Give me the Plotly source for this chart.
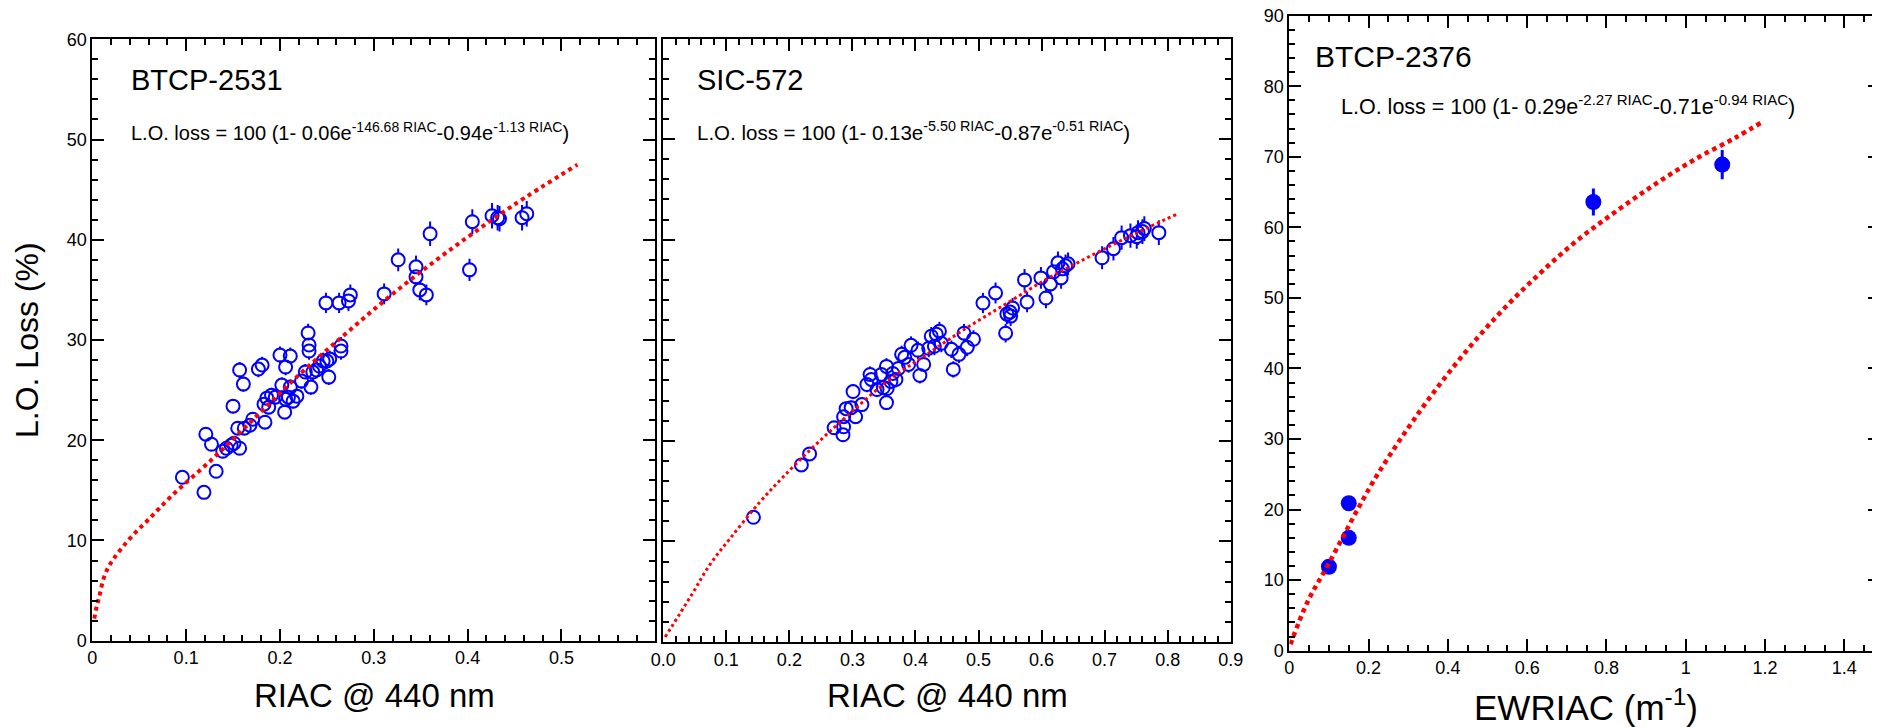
import plotly.graph_objects as go

# ---------------- data ----------------
btcp2531_riac = [0.096, 0.119, 0.121, 0.127, 0.132, 0.139, 0.143, 0.148, 0.151, 0.150,
                 0.155, 0.157, 0.157, 0.161, 0.162, 0.168, 0.171, 0.177, 0.181, 0.184,
                 0.183, 0.186, 0.188, 0.191, 0.195, 0.200, 0.202, 0.205, 0.206, 0.206,
                 0.209, 0.211, 0.211, 0.214, 0.218, 0.223, 0.227, 0.230, 0.231, 0.231,
                 0.233, 0.235, 0.239, 0.242, 0.246, 0.249, 0.250, 0.252, 0.253, 0.263,
                 0.265, 0.265, 0.273, 0.275, 0.311, 0.326, 0.345, 0.345, 0.349, 0.356,
                 0.360, 0.402, 0.405, 0.426, 0.432, 0.434, 0.458, 0.463]
btcp2531_loss = [16.3, 14.8, 20.6, 19.6, 16.9, 18.9, 19.2, 19.5, 19.7, 23.4,
                 21.2, 19.2, 27.0, 25.6, 21.2, 21.5, 22.1, 27.1, 27.5, 21.8,
                 23.6, 24.2, 23.3, 24.5, 24.3, 28.5, 25.5, 22.8, 27.3, 24.1,
                 24.3, 28.4, 25.3, 23.9, 24.4, 25.9, 26.8, 30.7, 29.5, 28.9,
                 25.3, 26.8, 27.0, 27.4, 27.9, 33.7, 27.9, 26.3, 28.1, 33.7,
                 28.9, 29.4, 33.9, 34.5, 34.6, 38.0, 37.3, 36.3, 35.0, 34.5,
                 40.6, 37.0, 41.8, 42.4, 42.2, 42.1, 42.2, 42.6]
fit2531_riac = [0.0021, 0.0039, 0.0058, 0.0082, 0.012, 0.017, 0.023, 0.032, 0.045, 0.060,
                0.084, 0.130, 0.175, 0.220, 0.266, 0.311, 0.357, 0.402, 0.448, 0.517]
fit2531_loss = [2.2, 3.1, 3.8, 4.7, 6.2, 7.3, 8.2, 9.3, 10.7, 12.1,
                14.4, 18.3, 22.4, 26.5, 30.3, 33.9, 37.3, 40.4, 43.4, 47.5]

sic572_riac = [0.143, 0.219, 0.232, 0.271, 0.285, 0.286, 0.286, 0.290, 0.298, 0.305,
               0.301, 0.315, 0.323, 0.328, 0.330, 0.339, 0.346, 0.349, 0.354, 0.355,
               0.354, 0.361, 0.364, 0.369, 0.373, 0.378, 0.383, 0.389, 0.393, 0.404,
               0.407, 0.413, 0.421, 0.425, 0.430, 0.433, 0.438, 0.441, 0.457, 0.460,
               0.469, 0.477, 0.482, 0.492, 0.507, 0.527, 0.543, 0.545, 0.550, 0.551,
               0.554, 0.573, 0.577, 0.599, 0.607, 0.614, 0.619, 0.626, 0.631, 0.633,
               0.638, 0.642, 0.696, 0.714, 0.727, 0.741, 0.751, 0.753, 0.760, 0.763,
               0.786]
sic572_loss = [12.4, 17.6, 18.7, 21.3, 20.6, 21.4, 22.4, 23.2, 23.3, 22.4,
               24.9, 23.6, 25.6, 26.6, 26.1, 25.1, 26.6, 25.3, 27.4, 25.2,
               23.8, 25.9, 26.7, 26.1, 27.2, 28.6, 28.3, 27.6, 29.5, 29.0,
               26.5, 27.6, 29.2, 30.4, 29.4, 30.6, 30.9, 29.7, 29.1, 27.1,
               28.6, 30.7, 29.3, 30.1, 33.7, 34.7, 30.7, 32.6, 32.8, 32.4,
               33.2, 36.0, 33.8, 36.2, 34.2, 35.6, 36.8, 37.7, 36.2, 37.1,
               37.4, 37.6, 38.2, 39.1, 40.2, 40.4, 40.3, 40.7, 40.8, 41.1,
               40.7]
fit572_riac = [0.003, 0.045, 0.074, 0.106, 0.153, 0.190, 0.238, 0.292, 0.355, 0.418,
               0.4805, 0.543, 0.606, 0.669, 0.732, 0.8134]
fit572_loss = [0.5, 4.7, 7.7, 10.3, 13.9, 16.4, 19.4, 22.5, 25.9, 28.6,
               31.2, 33.6, 36.0, 38.1, 40.1, 42.5]

btcp2376_ewriac = [0.100, 0.150, 0.150, 0.767, 1.092]
btcp2376_loss = [11.9, 16.0, 20.9, 63.6, 68.9]
fit2376_ewriac = [0.003, 0.045, 0.100, 0.175, 0.225, 0.325, 0.425, 0.525, 0.625, 0.725,
                  0.825, 0.925, 1.025, 1.125, 1.195]
fit2376_loss = [0.9, 6.8, 12.4, 20.3, 25.2, 33.6, 41.0, 47.5, 53.1, 58.1,
                62.3, 66.2, 69.7, 72.7, 75.0]

x1_ticks = [0, 0.1, 0.2, 0.3, 0.4, 0.5, 0.6]
x1_labels = ["0", "0.1", "0.2", "0.3", "0.4", "0.5", ""]
x2_ticks = [0, 0.1, 0.2, 0.3, 0.4, 0.5, 0.6, 0.7, 0.8, 0.9]
x2_labels = ["0.0", "0.1", "0.2", "0.3", "0.4", "0.5", "0.6", "0.7", "0.8", "0.9"]
x3_ticks = [0, 0.2, 0.4, 0.6, 0.8, 1.0, 1.2, 1.4]
x3_labels = ["0", "0.2", "0.4", "0.6", "0.8", "1", "1.2", "1.4"]

# ---------------- figure ----------------
# the page body has an 8 px margin, so the figure is 8 px smaller and every
# page position p is mapped to figure position p - 8
OFF = 8
W, H = 1880 - OFF, 727 - OFF
def fx(p): return (p - OFF) / W
def fy(p): return 1 - (p - OFF) / H

BLUE = "#0000FF"
RED = "#FF0000"
FONT = "Liberation Sans, Arial, Helvetica, sans-serif"

fig = go.Figure()

def open_points(xs, ys, xa, ya):
    # error bars (no visible marker)
    fig.add_trace(go.Scatter(x=xs, y=ys, mode="markers",
                             marker=dict(size=2, color="rgba(0,0,0,0)"),
                             error_y=dict(type="percent", value=3, thickness=2, width=0, color=BLUE),
                             xaxis=xa, yaxis=ya, showlegend=False, hoverinfo="skip"))
    # white interior so the bar does not cross the circle
    fig.add_trace(go.Scatter(x=xs, y=ys, mode="markers",
                             marker=dict(symbol="circle", size=11, color="white",
                                         line=dict(width=0)),
                             xaxis=xa, yaxis=ya, showlegend=False, hoverinfo="skip"))
    fig.add_trace(go.Scatter(x=xs, y=ys, mode="markers",
                             marker=dict(symbol="circle-open", size=13, color=BLUE,
                                         line=dict(width=2, color=BLUE)),
                             xaxis=xa, yaxis=ya, showlegend=False))

open_points(btcp2531_riac, btcp2531_loss, "x", "y")
fig.add_trace(go.Scatter(x=fit2531_riac, y=fit2531_loss, mode="lines",
                         line=dict(color=RED, width=4, dash="dot", shape="spline"),
                         xaxis="x", yaxis="y", showlegend=False))

open_points(sic572_riac, sic572_loss, "x2", "y2")
fig.add_trace(go.Scatter(x=fit572_riac, y=fit572_loss, mode="lines",
                         line=dict(color=RED, width=3, dash="dot", shape="spline"),
                         xaxis="x2", yaxis="y2", showlegend=False))

fig.add_trace(go.Scatter(x=btcp2376_ewriac, y=btcp2376_loss, mode="markers",
                         marker=dict(symbol="circle", size=16, color=BLUE),
                         error_y=dict(type="percent", value=3, thickness=3, width=0, color=BLUE),
                         xaxis="x3", yaxis="y3", showlegend=False))
fig.add_trace(go.Scatter(x=fit2376_ewriac, y=fit2376_loss, mode="lines",
                         line=dict(color=RED, width=4.5, dash="4.5px,4px", shape="spline"),
                         xaxis="x3", yaxis="y3", showlegend=False))

def xax(domain, rng, tv, tt, minor_dt, anchor):
    return dict(domain=domain, range=rng, anchor=anchor, tickmode="array",
                tickvals=tv, ticktext=tt,
                ticks="inside", ticklen=12, tickwidth=2, tickcolor="black",
                showline=True, linecolor="black", linewidth=2, mirror="ticks",
                showgrid=False, zeroline=False, automargin=False,
                ticklabeloverflow="allow",
                tickfont=dict(family=FONT, size=18, color="black"),
                minor=dict(ticks="inside", ticklen=6, tickwidth=2, tickcolor="black",
                           dtick=minor_dt, tick0=0, showgrid=False))

def yax(domain, rng, anchor, labels=True):
    return dict(domain=domain, range=rng, anchor=anchor, tickmode="linear", dtick=10, tick0=0,
                ticks="inside", ticklen=12, tickwidth=2, tickcolor="black",
                showline=True, linecolor="black", linewidth=2, mirror="ticks",
                showgrid=False, zeroline=False, showticklabels=labels, automargin=False,
                ticklabeloverflow="allow",
                tickfont=dict(family=FONT, size=18, color="black"),
                minor=dict(ticks="inside", ticklen=6, tickwidth=2, tickcolor="black",
                           dtick=2, tick0=0, showgrid=False))

d1x = [fx(92.3), fx(655.3)]
d2x = [fx(663.3), fx(1230.7)]
d3x = [fx(1289.3), 1.0]
d1y = [fy(640.7), fy(39.3)]
d2y = [fy(642.0), fy(38.5)]
d3y = [fy(650.7), fy(15.7)]

fig.update_layout(
    width=W, height=H, margin=dict(l=0, r=0, t=0, b=0, pad=0, autoexpand=False),
    paper_bgcolor="white", plot_bgcolor="white",
    font=dict(family=FONT, color="black"),
    xaxis=xax(d1x, [0, 0.6], x1_ticks, x1_labels, 0.02, "y"),
    yaxis=yax(d1y, [0, 60], "x"),
    xaxis2=xax(d2x, [0, 0.9], x2_ticks, x2_labels, 0.02, "y2"),
    yaxis2=yax(d2y, [0, 60], "x2", labels=False),
    xaxis3=xax(d3x, [0, 1.49], x3_ticks, x3_labels, 0.05, "y3"),
    yaxis3=yax(d3y, [0, 90], "x3"),
)

def ann(text, x, y, size, xanchor="left", yanchor="middle", angle=0):
    fig.add_annotation(text=text, x=x, y=y, xref="paper", yref="paper",
                       xanchor=xanchor, yanchor=yanchor, showarrow=False,
                       textangle=angle, font=dict(family=FONT, size=size, color="black"))

# axis titles
ann("L.O. Loss (%)", fx(27), fy(340), 32, xanchor="center", angle=-90)
ann("RIAC @ 440 nm", fx(374), fy(695), 33, xanchor="center")
ann("RIAC @ 440 nm", fx(947), fy(695), 33, xanchor="center")
ann("EWRIAC (m<sup>-1</sup>)", fx(1586), fy(705), 35, xanchor="center")

# panel labels
ann("BTCP-2531", fx(129), fy(80), 29)
ann("SIC-572", fx(695), fy(80), 29)
ann("BTCP-2376", fx(1313), fy(56), 30)

# equations
ann("L.O. loss = 100 (1- 0.06e<sup>-146.68 RIAC</sup>-0.94e<sup>-1.13 RIAC</sup>)",
    fx(129), fy(131), 20)
ann("L.O. loss = 100 (1- 0.13e<sup>-5.50 RIAC</sup>-0.87e<sup>-0.51 RIAC</sup>)",
    fx(695), fy(131), 20.5)
ann("L.O. loss = 100 (1- 0.29e<sup>-2.27 RIAC</sup>-0.71e<sup>-0.94 RIAC</sup>)",
    fx(1339), fy(105), 21.5)

fig.write_html("out.html", config={"displayModeBar": False})
